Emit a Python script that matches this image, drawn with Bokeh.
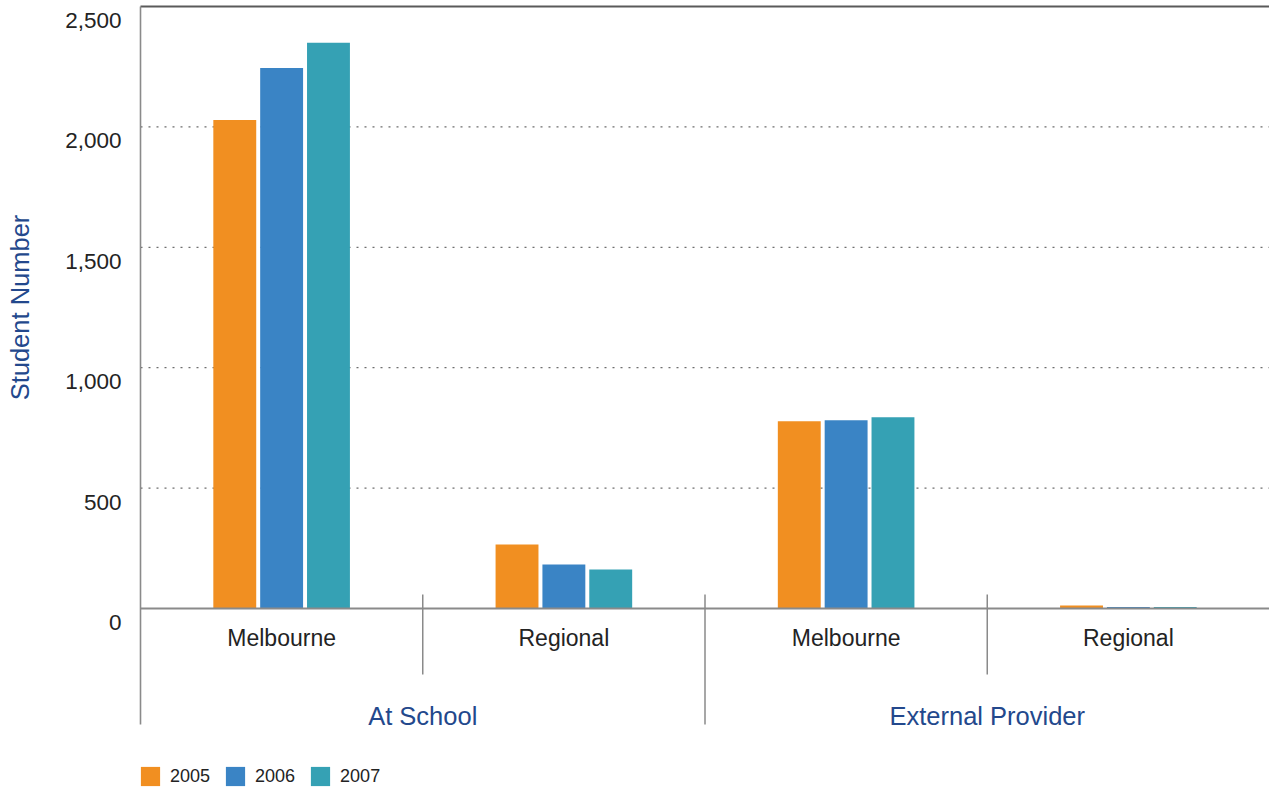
import math
from bokeh.plotting import figure
from bokeh.models import ColumnDataSource, Legend, LegendItem, Range1d
from bokeh.core.properties import value
from bokeh.embed import file_html
from bokeh.resources import INLINE

# Student numbers by delivery setting and location
groups = ["At School", "At School", "External Provider", "External Provider"]
locations = ["Melbourne", "Regional", "Melbourne", "Regional"]
years = ["2005", "2006", "2007"]
students_2005 = [2029, 266, 778, 12]
students_2006 = [2245, 183, 782, 6]
students_2007 = [2349, 162, 794, 6]
y_ticks = [0, 500, 1000, 1500, 2000, 2500]
y_max = 2500

colors = ["#F18F21", "#3A84C5", "#35A1B4"]
text_color = "#232323"
title_color = "#23488C"
axis_gray = "#8A8A8A"
FONT = "Liberation Sans"

# canvas geometry (pixels)
W, H = 1269, 789
plot_left = 140          # where the category area begins
frame_top = 4
top_px = 6
baseline_px = 608
n = len(locations)
ppx = (W - plot_left) / n                      # pixels per category slot
ppu = (baseline_px - top_px) / y_max           # pixels per student
x_start = -plot_left / ppx
y_end = y_max + (top_px - frame_top) / ppu
y_start = -(H - baseline_px) / ppu

def px_to_y(px):
    """canvas row -> value units (rows below the baseline become negative)"""
    return (baseline_px - px) / ppu

centers = [i + 0.5 for i in range(n)]
source = ColumnDataSource(data=dict(
    x=centers,
    y2005=students_2005,
    y2006=students_2006,
    y2007=students_2007,
))

p = figure(
    width=W, height=H,
    x_range=Range1d(x_start, n), y_range=Range1d(y_start, y_end),
    output_backend="svg", toolbar_location=None,
    x_axis_location=None, y_axis_location=None,
    min_border_left=0, min_border_right=0,
    min_border_top=frame_top, min_border_bottom=0,
)
p.outline_line_color = None
p.background_fill_color = "white"
p.border_fill_color = "white"
p.grid.visible = False

# dotted horizontal gridlines
grid_vals = [t for t in y_ticks if 0 < t < y_max]
p.segment(x0=[0] * len(grid_vals), y0=grid_vals, x1=[n] * len(grid_vals), y1=grid_vals,
          line_color="#6E6E6E", line_dash="2 6", line_width=1.3)

# bars
bar_w = 0.152
step = 0.166
renderers = []
for i, (yr, col) in enumerate(zip(years, colors)):
    xs = [c + (i - 1) * step for c in centers]
    r = p.vbar(x=xs, top=source.data["y" + yr], width=bar_w,
               fill_color=col, line_color=None)
    renderers.append(r)

# top rule, baseline and left rule
p.segment(x0=[0], y0=[y_max], x1=[n], y1=[y_max], line_color="#5A5A5A", line_width=2)
p.segment(x0=[0], y0=[0], x1=[n], y1=[0], line_color=axis_gray, line_width=2)
p.segment(x0=[0], y0=[y_max], x1=[0], y1=[px_to_y(724)], line_color=axis_gray, line_width=1.6)

# separators between locations / groups
sx, sy1 = [], []
for i in range(1, n):
    sx.append(i)
    sy1.append(px_to_y(724) if groups[i] != groups[i - 1] else px_to_y(674))
p.segment(x0=sx, y0=[px_to_y(594)] * len(sx), x1=sx, y1=sy1,
          line_color=axis_gray, line_width=1.5)

# category labels
p.text(x=centers, y=[0] * n, text=locations, y_offset=29,
       text_align="center", text_baseline="middle",
       text_font=value(FONT), text_font_size="23px", text_color=text_color)

# group labels, centred under their categories
group_names = list(dict.fromkeys(groups))
group_x = []
for g in group_names:
    idx = [i for i, gg in enumerate(groups) if gg == g]
    group_x.append((min(idx) + max(idx) + 1) / 2)
p.text(x=group_x, y=[0] * len(group_names), text=group_names, y_offset=107,
       text_align="center", text_baseline="middle",
       text_font=value(FONT), text_font_size="25.5px", text_color=title_color)

# y tick labels, set slightly below their gridlines
tick_text = [f"{t:,}" for t in y_ticks]
p.text(x=[-19 / ppx] * len(y_ticks), y=y_ticks, text=tick_text, y_offset=14,
       text_align="right", text_baseline="middle",
       text_font=value(FONT), text_font_size="22.5px", text_color=text_color)

# vertical axis title
p.text(x=[(19 - plot_left) / ppx], y=[y_max / 2], text=["Student Number"],
       angle=math.pi / 2, text_align="center", text_baseline="middle",
       text_font=value(FONT), text_font_size="25.5px", text_color=title_color)

# legend
legend = Legend(items=[LegendItem(label=yr, renderers=[r]) for yr, r in zip(years, renderers)],
                location=(plot_left - 2, 1), orientation="horizontal",
                padding=0, margin=0, spacing=13,
                glyph_width=24, glyph_height=24, label_standoff=8,
                label_text_font=FONT, label_text_font_size="18px", label_text_color=text_color,
                border_line_color=None, background_fill_alpha=0)
p.add_layout(legend, "center")

open("out.html", "w").write(file_html(p, INLINE))
